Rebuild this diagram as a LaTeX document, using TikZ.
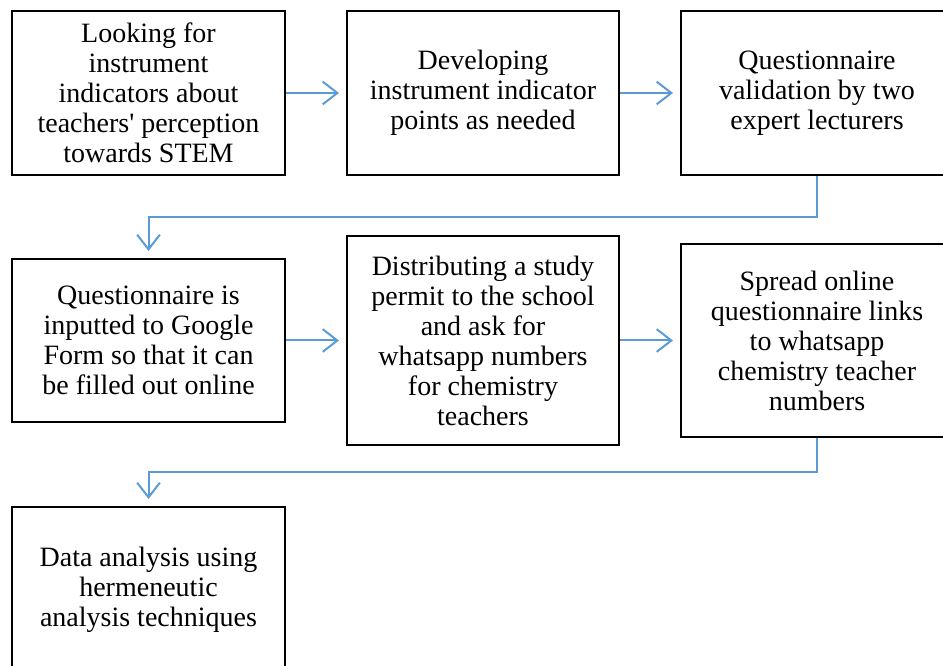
\documentclass[tikz,border=0pt]{standalone}
\usepackage{fontspec}
\setmainfont{Liberation Serif}
\usetikzlibrary{arrows.meta}
\definecolor{flowblue}{RGB}{91,155,213}
\begin{document}
\begin{tikzpicture}[x=0.75pt,y=-0.75pt,
  stage/.style={draw,rectangle,line width=2pt,align=center,inner sep=0pt,
    font=\fontsize{21}{22.5}\selectfont},
  flow/.style={draw=flowblue,line width=1.5pt,-{Straight Barb[length=11pt,width=17pt]},shorten >=5pt}]
  \useasboundingbox (0,0) rectangle (943,666);
  \node (Looking) at (148.5,93) [stage,minimum width=273*0.75pt,minimum height=164*0.75pt] {Looking for\\instrument\\indicators about\\teachers\textquotesingle{} perception\\towards STEM};
  \node (Developing) at (483,93) [stage,minimum width=272*0.75pt,minimum height=164*0.75pt] {Developing\\instrument indicator\\points as needed};
  \node (Validation) at (817,93) [stage,minimum width=272*0.75pt,minimum height=164*0.75pt] {Questionnaire\\validation by two\\expert lecturers};
  \node (GoogleForm) at (148.5,340.5) [stage,minimum width=273*0.75pt,minimum height=163*0.75pt] {Questionnaire is\\inputted to Google\\Form so that it can\\be filled out online};
  \node (Permit) at (483,340.5) [stage,minimum width=272*0.75pt,minimum height=209*0.75pt] {Distributing a study\\permit to the school\\and ask for\\whatsapp numbers\\for chemistry\\teachers};
  \node (Spread) at (817,340.5) [stage,minimum width=272*0.75pt,minimum height=193*0.75pt] {Spread online\\questionnaire links\\to whatsapp\\chemistry teacher\\numbers};
  \node (Analysis) at (148.5,590) [stage,minimum width=273*0.75pt,minimum height=166*0.75pt] {Data analysis using\\hermeneutic\\analysis techniques};
  \draw [flow] (Looking) -- (Developing);
  \draw [flow] (Developing) -- (Validation);
  \draw [flow] (Validation.south) -- ++(0,41) -| (GoogleForm.north);
  \draw [flow] (GoogleForm) -- (Permit);
  \draw [flow] (Permit) -- (Spread);
  \draw [flow] (Spread.south) -- ++(0,34) -| (Analysis.north);
\end{tikzpicture}
\end{document}
